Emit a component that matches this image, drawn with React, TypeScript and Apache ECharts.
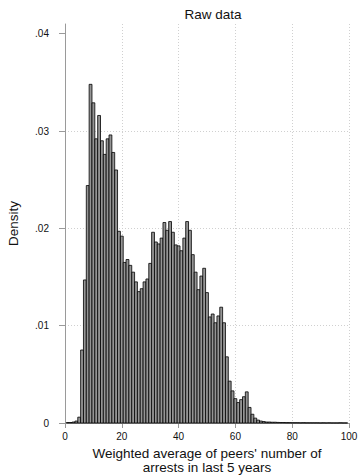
import React, { useEffect, useRef } from "react";
import * as echarts from "echarts";

// Histogram bins (width 1), centred on these values
const binCenters: number[] = [
  1, 2, 3, 4, 5, 6, 7, 8, 9, 10, 11, 12, 13, 14, 15, 16, 17, 18, 19, 20,
  21, 22, 23, 24, 25, 26, 27, 28, 29, 30, 31, 32, 33, 34, 35, 36, 37, 38, 39, 40,
  41, 42, 43, 44, 45, 46, 47, 48, 49, 50, 51, 52, 53, 54, 55, 56, 57, 58, 59, 60,
  61, 62, 63, 64, 65, 66, 67, 68, 69, 70, 71, 72, 73, 74, 75, 76, 77, 78, 79, 80,
  81, 82, 83, 84, 85, 86, 87, 88, 89, 90, 91, 92, 93, 94, 95, 96, 97, 98, 99,
];

const density: number[] = [
  0.00005, 0.00005, 0.0001, 0.0002, 0.0006, 0.0075, 0.0147, 0.0244, 0.0348, 0.0329,
  0.0292, 0.0316, 0.029, 0.0276, 0.0292, 0.0296, 0.0278, 0.026, 0.0197, 0.0192,
  0.0165, 0.0168, 0.0162, 0.0155, 0.0145, 0.0135, 0.0138, 0.0145, 0.0148, 0.0164,
  0.0196, 0.0186, 0.0184, 0.019, 0.0206, 0.0198, 0.0207, 0.0196, 0.0183, 0.0182,
  0.0177, 0.019, 0.0207, 0.0198, 0.0173, 0.0155, 0.0137, 0.0151, 0.0159, 0.0134,
  0.0109, 0.0112, 0.0103, 0.011, 0.0119, 0.0103, 0.0068, 0.0043, 0.0033, 0.0025,
  0.0021, 0.0024, 0.0027, 0.0032, 0.0016, 0.0009, 0.0005, 0.0003, 0.0002, 0.00015,
  0.0001, 0.0001, 0.00008, 0.00008, 0.00006, 0.00005, 0.00005, 0.00004, 0.00004, 0.00003,
  0.00003, 0.00003, 0.00002, 0.00003, 0.00002, 0.00002, 0.00002, 0.00002, 0.00002, 0.00001,
  0.00002, 0.00001, 0.00002, 0.00001, 0.00001, 0.00001, 0.00002, 0.00001, 0.00001,
];

const binWidth = 1;
const xTicks: number[] = [0, 20, 40, 60, 80, 100];
const yTicks: number[] = [0, 0.01, 0.02, 0.03, 0.04];

const titleText = "Raw data";
const xTitle = "Weighted average of peers' number of\narrests in last 5 years";
const yTitle = "Density";

const FONT = "'Liberation Sans', Arial, Helvetica, sans-serif";

export default function App() {
  const ref = useRef<HTMLDivElement | null>(null);

  useEffect(() => {
    if (!ref.current) return;
    const chart = echarts.init(ref.current, undefined, { renderer: "svg" });
    const data = binCenters.map((c, i) => [c - binWidth / 2, c + binWidth / 2, density[i]]);
    const fmtY = (v: number) => (v === 0 ? "0" : v.toFixed(2).replace(/^0/, ""));

    chart.setOption({
      animation: false,
      backgroundColor: "#ffffff",
      textStyle: { fontFamily: FONT },
      title: {
        text: titleText,
        left: 208,
        textAlign: "center",
        top: 2,
        textStyle: { fontFamily: FONT, fontSize: 13.5, fontWeight: "normal", color: "#111" },
      },
      grid: {
        left: 65,
        top: 24,
        width: 284,
        height: 399,
        containLabel: false,
        outerBoundsMode: "none",
      },
      xAxis: {
        type: "value",
        min: 0,
        max: 100,
        interval: 20,
        axisLine: { show: true, lineStyle: { color: "#9a9a9a", width: 1 } },
        axisTick: { show: true, length: 5, lineStyle: { color: "#9a9a9a" } },
        axisLabel: { fontSize: 10, color: "#111", margin: 8, fontFamily: FONT, customValues: xTicks },
        splitLine: { show: true, lineStyle: { color: "#d0d0d0", type: [1, 2], width: 1 } },
        name: xTitle,
        nameLocation: "middle",
        nameGap: 23,
        nameTextStyle: { fontSize: 13.5, color: "#111", lineHeight: 14, fontFamily: FONT },
      },
      yAxis: {
        type: "value",
        min: 0,
        max: 0.041,
        interval: 0.01,
        offset: 8,
        axisLine: { show: true, lineStyle: { color: "#9a9a9a", width: 1 } },
        axisTick: { show: true, length: 6, lineStyle: { color: "#9a9a9a" }, customValues: yTicks },
        axisLabel: { fontSize: 10, color: "#111", margin: 8, fontFamily: FONT, formatter: fmtY, customValues: yTicks },
        splitLine: {
          show: true,
          showMinLine: false,
          showMaxLine: false,
          lineStyle: { color: "#d0d0d0", type: [1, 2], width: 1 },
        },
        name: yTitle,
        nameLocation: "middle",
        nameRotate: 90,
        nameGap: 37,
        nameTextStyle: { fontSize: 13.5, color: "#111", fontFamily: FONT },
      },
      series: [
        {
          type: "custom",
          data,
          encode: { x: [0, 1], y: 2 },
          renderItem: (params: any, api: any) => {
            const x0 = api.value(0);
            const x1 = api.value(1);
            const h = api.value(2);
            const p0 = api.coord([x0, h]);
            const p1 = api.coord([x1, 0]);
            return {
              type: "rect",
              shape: { x: p0[0], y: p0[1], width: p1[0] - p0[0], height: p1[1] - p0[1] },
              style: { fill: "#959595", stroke: "#000000", lineWidth: 0.8 },
            };
          },
        },
      ],
    });

    return () => chart.dispose();
  }, []);

  return (
    <div
      ref={ref}
      style={{ position: "fixed", left: 0, top: 0, width: 362, height: 475, background: "#fff" }}
    />
  );
}
